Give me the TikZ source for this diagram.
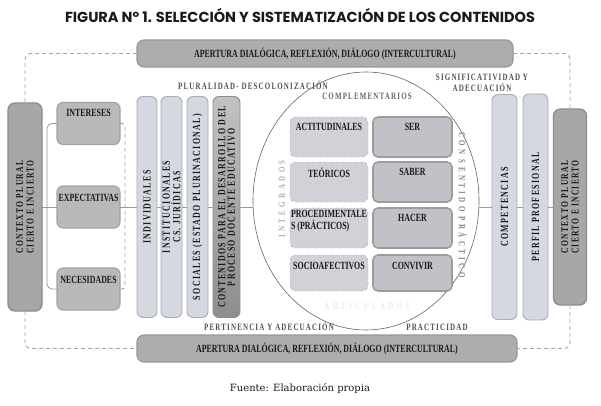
\documentclass[tikz,border=0pt]{standalone}
\usepackage{fontspec}
\setmainfont{Liberation Serif}
\newfontfamily\dg[FakeStretch=0.72]{Liberation Serif}
\newfontfamily\dgs[FakeStretch=0.72,LetterSpace=12]{Liberation Serif}
\newfontfamily\dgw[FakeStretch=0.72,LetterSpace=35]{Liberation Serif}
\newfontfamily\ttl{Poppins}
\newfontfamily\src{DejaVu Serif}
\usetikzlibrary{shapes.geometric,positioning}
\definecolor{ink}{HTML}{1A1A1A}
\definecolor{headc}{HTML}{505050}
\definecolor{bannf}{HTML}{ADADAD}
\definecolor{bannl}{HTML}{989898}
\definecolor{ctxf}{HTML}{A7A7A7}
\definecolor{ctxl}{HTML}{8E8E8E}
\definecolor{needf}{HTML}{B9B9B9}
\definecolor{needl}{HTML}{A2A2A2}
\definecolor{colf}{HTML}{D5D8E0}
\definecolor{coll}{HTML}{A9ACB4}
\definecolor{dimf}{HTML}{D0D2D8}
\definecolor{diml}{HTML}{A8A8A8}
\definecolor{actf}{HTML}{C0C2C7}
\definecolor{actl}{HTML}{9C9C9C}
\definecolor{connc}{HTML}{9A9A9A}
\definecolor{rimc}{HTML}{A6A6A6}
\begin{document}
\begin{tikzpicture}[x=1pt,y=-1pt,
  every node/.style={inner sep=0pt,outer sep=0pt},
  conn/.style={draw=connc,line width=0.8pt},
  rim/.style={draw=rimc,line width=0.9pt,rounded corners=6pt,dash pattern=on 4pt off 3pt},
  lbl/.style={font=\dg\bfseries\fontsize{11}{12}\selectfont,text=ink},
  head/.style={font=\dgs\bfseries\fontsize{9.7}{11}\selectfont,text=headc},
  wide/.style={font=\dgw\bfseries\fontsize{9.7}{11}\selectfont},
  banner/.style={lbl,rounded corners=7pt,fill=bannf,draw=bannl,line width=1.2pt,minimum height=27pt},
  ctx/.style={font=\dgs\bfseries\fontsize{10.5}{10.5}\selectfont,text=ink,rounded corners=7pt,fill=ctxf,draw=ctxl,line width=1.4pt,rotate=90,align=center},
  need/.style={rounded corners=6pt,fill=needf,draw=needl,line width=1.1pt,minimum width=63pt,minimum height=42pt},
  col/.style={font=\dgs\bfseries\fontsize{11}{9.5}\selectfont,text=ink,rounded corners=6pt,fill=colf,draw=coll,line width=0.9pt,rotate=90,align=center},
  dimbox/.style={rounded corners=5pt,fill=dimf,draw=diml,dashed,minimum width=78pt,minimum height=40pt},
  actbox/.style={rounded corners=5pt,fill=actf,draw=actl,line width=1.6pt,minimum width=79pt,minimum height=40pt}]
\useasboundingbox[fill=white] (0,0) rectangle (601,406);

% title and source
\node[font=\ttl\bfseries\fontsize{14.5}{16}\selectfont,text=ink] (title) at (300,15) {FIGURA Nº 1. SELECCIÓN Y SISTEMATIZACIÓN DE LOS CONTENIDOS};
\node[font=\src\fontsize{10}{12}\selectfont,text=ink] (source) at (300,389) {Fuente: Elaboración propia};

% frame
\node[banner,minimum width=376pt] (top) at (325,53.5) {APERTURA DIALÓGICA, REFLEXIÓN, DIÁLOGO (INTERCULTURAL)};
\node[banner,minimum width=380pt] (bot) at (327,348.5) {APERTURA DIALÓGICA, REFLEXIÓN, DIÁLOGO (INTERCULTURAL)};
\node[ctx,minimum width=208pt,minimum height=34pt] (ctxL) at (25,207) {CONTEXTO PLURAL\\CIERTO E INCIERTO};
\node[ctx,minimum width=196pt,minimum height=33pt] (ctxR) at (570,207) {CONTEXTO PLURAL\\CIERTO E INCIERTO};
\draw[rim] (top.west) -| (ctxL.east);
\draw[rim] (ctxL.west) |- (bot.west);
\draw[rim] (top.east) -| (ctxR.east);
\draw[rim] (ctxR.west) |- (bot.east);

% needs
\node[need] (int) at (88.5,123.5) {};
\node[lbl,below=7pt of int.north] (intT) {INTERESES};
\node[need] (exp) at (88.5,207) {};
\node[lbl,below=8pt of exp.north] (expT) {EXPECTATIVAS};
\node[need] (nec) at (88.5,289) {};
\node[lbl,below=8pt of nec.north] (necT) {NECESIDADES};
\draw[conn,rounded corners=5pt] (int.west) -- ++(-10,0) |- (nec.west);
\draw[rim,rounded corners=3pt] (int.east) -- ++(5,0) |- (nec.east);
\draw[conn] (ctxL) -- (exp);

% columns
\node[col,minimum width=221pt,minimum height=20pt] (ind) at (147,207) {INDIVIDUALES};
\node[col,minimum width=221pt,minimum height=21pt] (inst) at (171.5,207) {INSTITUCIONALES\\CS. JURÍDICAS};
\node[col,minimum width=221pt,minimum height=21pt] (soc) at (197.5,207) {SOCIALES (ESTADO PLURINACIONAL)};
\node[col,minimum width=221pt,minimum height=27pt,top color=ctxf!70,bottom color=ctxf!85!black,draw=ctxf!85!black] (cont) at (226.5,207) {CONTENIDOS PARA EL DESARROLLO DEL\\PROCESO DOCENTE EDUCATIVO};
\draw[conn] (exp) -- (ind) -- (inst) -- (soc) -- (cont);
\node[head] (plur) at (253,85) {PLURALIDAD- DESCOLONIZACIÓN};

% circle of contents
\node[ellipse,draw=black!60,line width=0.6pt,minimum width=226pt,minimum height=258pt] (circ) at (366,201) {};
\draw[conn] (cont) -- (circ.west |- cont);
\node[head,text=black!60] (compl) at (367,96) {COMPLEMENTARIOS};
\node[wide,text=black!30,rotate=90] (integ) at (282,199) {INTEGRADOS};
\node[wide,text=black!48,rotate=-90] (sentido) at (463,205) {CON SENTIDO PRÁCTICO};
\node[wide,text=black!8] (artic) at (367,306) {ARTICULADOS};

\node[dimbox] (actd) at (329,137) {};
\node[lbl,below=6pt of actd.north] (actdT) {ACTITUDINALES};
\node[dimbox] (teo) at (329,182) {};
\node[lbl,below=6pt of teo.north] (teoT) {TEÓRICOS};
\node[dimbox] (proc) at (329,228) {};
\node[lbl,below=2pt of proc.north,align=left] (procT) {PROCEDIMENTALE\\S (PRÁCTICOS)};
\node[dimbox,minimum height=36pt] (socio) at (329,273) {};
\node[lbl,below=7pt of socio.north] (socioT) {SOCIOAFECTIVOS};

\node[actbox] (ser) at (412.5,137) {};
\node[lbl,below=6pt of ser.north] (serT) {SER};
\node[actbox] (sab) at (412.5,182) {};
\node[lbl,below=6pt of sab.north] (sabT) {SABER};
\node[actbox] (hac) at (412.5,228) {};
\node[lbl,below=6pt of hac.north] (hacT) {HACER};
\node[actbox,minimum height=36pt] (conv) at (412.5,273) {};
\node[lbl,below=7pt of conv.north] (convT) {CONVIVIR};

\node[head] (pert) at (269,326) {PERTINENCIA Y ADECUACIÓN};
\node[head] (pract) at (437,327) {PRACTICIDAD};

% right side
\node[head,align=center] (signif) at (482,83) {SIGNIFICATIVIDAD Y\\ADECUACIÓN};
\node[col,minimum width=225pt,minimum height=25pt] (comp) at (504.5,207) {COMPETENCIAS};
\node[col,minimum width=226pt,minimum height=25pt] (perf) at (535.5,207) {PERFIL PROFESIONAL};
\draw[conn] (circ.east |- comp) -- (comp) -- (perf) -- (ctxR);
\end{tikzpicture}
\end{document}
